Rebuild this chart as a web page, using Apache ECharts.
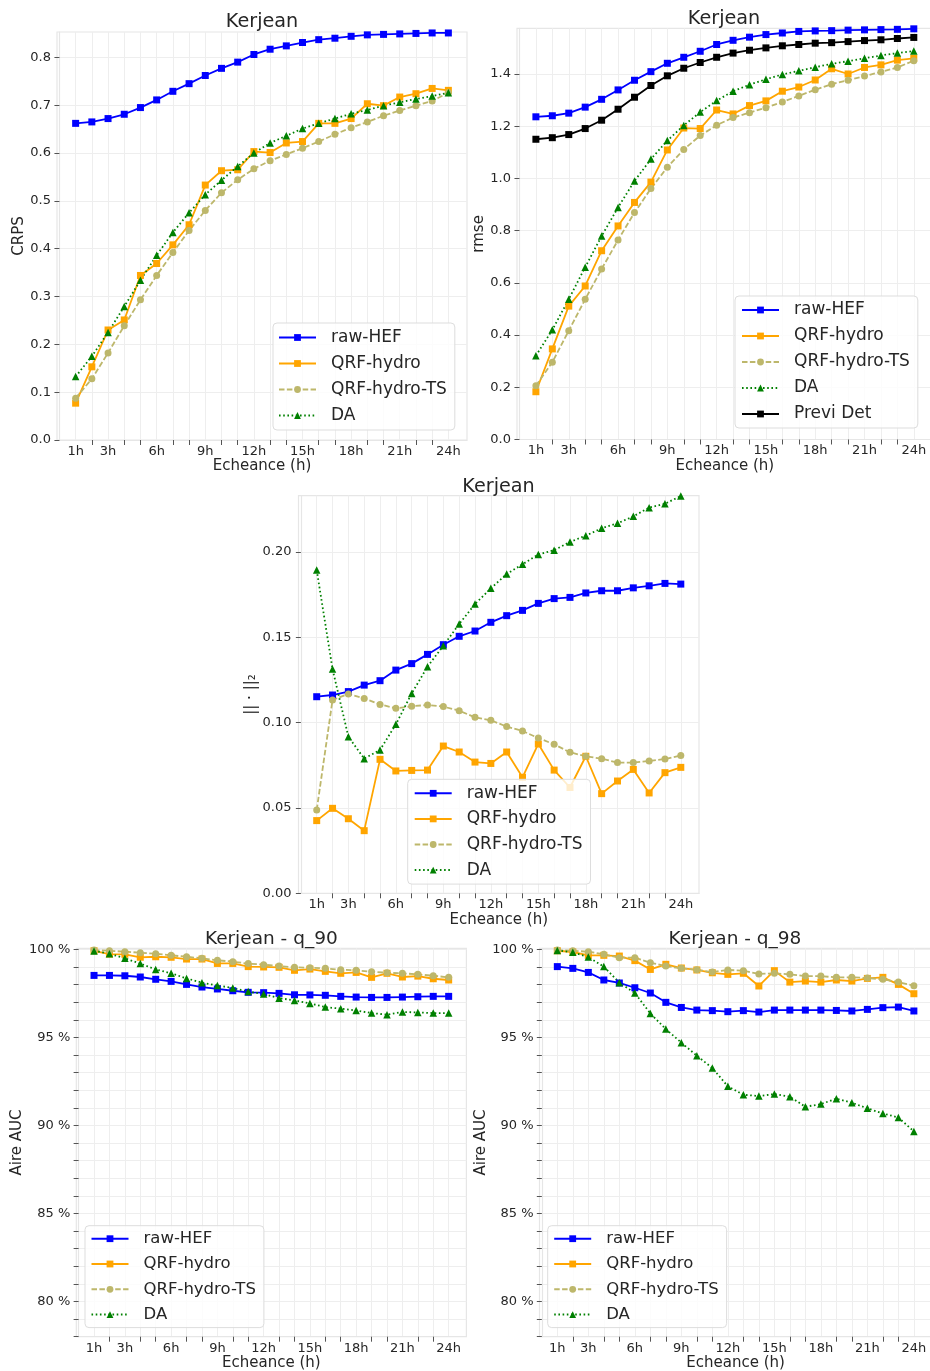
<!DOCTYPE html>
<html><head><meta charset="utf-8">
<script src="https://cdn.jsdelivr.net/npm/echarts@6/dist/echarts.min.js"></script>
<style>html,body{margin:0;padding:0;background:#fff}#c{width:930px;height:1371px}</style>
</head><body><div id="c"></div><script>
const hours = [1,2,3,4,5,6,7,8,9,10,11,12,13,14,15,16,17,18,19,20,21,22,23,24];
const xLabelHours = [1,3,6,9,12,15,18,21,24];
const xTickHours = [2,4,5,7,8,10,11,13,14,16,17,19,20,22,23];

// CRPS
const crpsRawHEF = [0.662,0.665,0.672,0.681,0.695,0.711,0.729,0.745,0.762,0.777,0.790,0.806,0.817,0.824,0.831,0.837,0.840,0.844,0.847,0.848,0.849,0.850,0.851,0.851];
const crpsQRF = [0.077,0.153,0.230,0.251,0.344,0.369,0.408,0.450,0.533,0.563,0.565,0.603,0.601,0.621,0.624,0.662,0.662,0.672,0.703,0.699,0.717,0.724,0.735,0.731];
const crpsQRFTS = [0.0875,0.128,0.182,0.239,0.293,0.344,0.392,0.438,0.480,0.517,0.544,0.567,0.584,0.597,0.610,0.624,0.639,0.653,0.665,0.678,0.689,0.699,0.709,0.726];
const crpsDA = [0.1325,0.175,0.225,0.279,0.334,0.386,0.434,0.475,0.513,0.543,0.572,0.600,0.621,0.636,0.651,0.662,0.672,0.682,0.690,0.699,0.706,0.713,0.719,0.726];

// RMSE
const rmseRawHEF = [1.236,1.240,1.250,1.273,1.303,1.339,1.376,1.409,1.441,1.464,1.487,1.513,1.529,1.541,1.551,1.557,1.563,1.565,1.566,1.568,1.569,1.570,1.571,1.573];
const rmseQRF = [0.183,0.347,0.511,0.588,0.723,0.818,0.908,0.986,1.109,1.193,1.191,1.262,1.247,1.279,1.297,1.334,1.350,1.377,1.420,1.400,1.425,1.435,1.453,1.460];
const rmseQRFTS = [0.206,0.296,0.417,0.537,0.653,0.764,0.869,0.961,1.043,1.111,1.164,1.204,1.233,1.252,1.271,1.293,1.316,1.340,1.361,1.376,1.392,1.408,1.425,1.451];
const rmseDA = [0.321,0.420,0.537,0.660,0.779,0.889,0.990,1.074,1.145,1.203,1.254,1.298,1.334,1.359,1.380,1.398,1.412,1.426,1.439,1.449,1.460,1.471,1.480,1.488];
const rmsePreviDet = [1.150,1.156,1.168,1.191,1.223,1.265,1.311,1.356,1.393,1.422,1.444,1.464,1.480,1.491,1.500,1.508,1.513,1.518,1.520,1.524,1.528,1.531,1.536,1.540];

// Norm L2
const normRawHEF = [0.1152,0.1162,0.1182,0.1220,0.1246,0.1308,0.1346,0.1400,0.1457,0.1506,0.1537,0.1588,0.1627,0.1658,0.1699,0.1727,0.1734,0.1760,0.1773,0.1773,0.1790,0.1802,0.1816,0.1812];
const normQRF = [0.0426,0.0498,0.0437,0.0367,0.0785,0.0717,0.0720,0.0722,0.0863,0.0828,0.0769,0.0761,0.0828,0.0680,0.0875,0.0722,0.0620,0.0803,0.0584,0.0658,0.0726,0.0588,0.0707,0.0738];
const normQRFTS = [0.0488,0.1133,0.1168,0.1142,0.1107,0.1084,0.1096,0.1104,0.1094,0.1070,0.1031,0.1014,0.0977,0.0951,0.0910,0.0873,0.0826,0.0803,0.0789,0.0766,0.0766,0.0775,0.0787,0.0808];
const normDA = [0.1894,0.1314,0.0918,0.0789,0.0840,0.0990,0.1171,0.1328,0.1451,0.1578,0.1695,0.1787,0.1871,0.1928,0.1986,0.2011,0.2059,0.2096,0.2139,0.2168,0.2209,0.2260,0.2283,0.2328];

// AUC q_90
const q90RawHEF = [98.52,98.52,98.50,98.43,98.30,98.18,98.01,97.86,97.75,97.65,97.56,97.54,97.50,97.42,97.41,97.39,97.33,97.29,97.27,97.27,97.29,97.31,97.33,97.33];
const q90QRF = [99.92,99.73,99.72,99.55,99.58,99.55,99.45,99.45,99.20,99.20,99.02,99.00,98.98,98.81,98.88,98.75,98.64,98.69,98.41,98.64,98.43,98.48,98.33,98.26];
const q90QRFTS = [99.96,99.92,99.87,99.81,99.75,99.66,99.58,99.49,99.38,99.30,99.19,99.13,99.05,98.98,98.96,98.92,98.84,98.81,98.73,98.67,98.64,98.58,98.50,98.41];
const q90DA = [99.91,99.75,99.49,99.19,98.86,98.64,98.35,98.11,97.95,97.80,97.60,97.46,97.23,97.10,96.93,96.72,96.63,96.53,96.38,96.29,96.44,96.42,96.38,96.38];

// AUC q_98
const q98RawHEF = [99.02,98.92,98.69,98.26,98.09,97.82,97.52,96.99,96.70,96.55,96.52,96.46,96.52,96.44,96.55,96.55,96.55,96.55,96.53,96.50,96.59,96.69,96.72,96.50];
const q98QRF = [99.92,99.85,99.66,99.66,99.62,99.36,98.86,99.15,98.94,98.83,98.67,98.58,98.64,97.92,98.79,98.14,98.20,98.14,98.26,98.20,98.35,98.41,98.01,97.48];
const q98QRFTS = [99.96,99.92,99.87,99.72,99.53,99.53,99.24,99.05,98.92,98.84,98.71,98.83,98.79,98.60,98.64,98.58,98.48,98.48,98.41,98.41,98.37,98.30,98.14,97.94];
const q98DA = [99.94,99.83,99.56,99.02,98.11,97.52,96.36,95.47,94.70,93.96,93.26,92.22,91.74,91.67,91.78,91.63,91.06,91.21,91.52,91.29,90.97,90.68,90.45,89.66];

// tick values
const crpsTicks = [0,0.1,0.2,0.3,0.4,0.5,0.6,0.7,0.8];
const rmseTicks = [0,0.2,0.4,0.6,0.8,1.0,1.2,1.4];
const normTicks = [0,0.05,0.10,0.15,0.20];
const aucTicks = [78,79,80,81,82,83,84,85,86,87,88,89,90,91,92,93,94,95,96,97,98,99,100];
const aucLabels = [80,85,90,95,100];

const FONT = "'DejaVu Sans', sans-serif";
const TXT = '#262626';
const STY = {
  'raw-HEF': {color:'#0000ff', symbol:'rect', type:'solid', size:7},
  'QRF-hydro': {color:'#ffa500', symbol:'rect', type:'solid', size:7},
  'QRF-hydro-TS': {color:'#bdb76b', symbol:'circle', type:[5.5,2.4], size:7},
  'DA': {color:'#008000', symbol:'triangle', type:[1.6,2.6], size:7.5},
  'Previ Det': {color:'#000000', symbol:'rect', type:'solid', size:7}
};

const grids = [
  {left:57, top:32, width:410, height:408},
  {left:517, top:28.3, width:415.7, height:411.2},
  {left:298.5, top:495.7, width:400.5, height:397.6},
  {left:76.3, top:948.3, width:390.1, height:388.4},
  {left:539.5, top:948.3, width:392.2, height:388.4}
].map(g => Object.assign(g, {show:true, borderColor:'#e6e6e6', borderWidth:1.2, outerBoundsMode:'none', containLabel:false}));

const yDefs = [
  {min:0, max:0.853, ticks:crpsTicks, labels:crpsTicks, fmt:v=>v.toFixed(1), name:'CRPS', gap:27, margin:6},
  {min:0, max:1.575, ticks:rmseTicks, labels:rmseTicks, fmt:v=>v.toFixed(1), name:'rmse', gap:27, margin:6},
  {min:0, max:0.233, ticks:normTicks, labels:normTicks, fmt:v=>v.toFixed(2), name:'|| · ||₂', gap:33, margin:7},
  {min:78, max:100.06, ticks:aucTicks, labels:aucLabels, fmt:v=>v+' %', name:'Aire AUC', gap:46, margin:6},
  {min:78, max:100.06, ticks:aucTicks, labels:aucLabels, fmt:v=>v+' %', name:'Aire AUC', gap:46, margin:6}
];

const xAxes = [], yAxes = [];
grids.forEach((g, i) => {
  xAxes.push({
    type:'value', gridIndex:i, min:-0.15, max:25.15, position:'bottom',
    name:'Echeance (h)', nameLocation:'middle', nameGap:17,
    nameTextStyle:{fontFamily:FONT, fontSize:15, color:TXT},
    axisLine:{show:true, lineStyle:{color:'#e6e6e6', width:1.2}},
    axisTick:{show:false, customValues:hours},
    axisLabel:{customValues:xLabelHours, formatter:v=>v+'h', margin:5, fontFamily:FONT, fontSize:13, color:TXT},
    splitLine:{show:true, lineStyle:{color:'#eeeeee', width:1}}
  });
  const y = yDefs[i];
  yAxes.push({
    type:'value', gridIndex:i, min:y.min, max:y.max,
    name:y.name, nameLocation:'middle', nameGap:y.gap,
    nameTextStyle:{fontFamily:FONT, fontSize:15, color:TXT},
    axisLine:{show:true, lineStyle:{color:'#e6e6e6', width:1.2}},
    axisTick:{show:true, customValues:y.ticks, length:5, lineStyle:{color:'#555555'}},
    axisLabel:{customValues:y.labels, formatter:y.fmt, margin:y.margin, fontFamily:FONT, fontSize:13, color:TXT},
    splitLine:{show:true, lineStyle:{color:'#eeeeee', width:1}}
  });
});
// overlay x axes for small tick marks at unlabelled hours
grids.forEach((g, i) => {
  xAxes.push({
    type:'value', gridIndex:i, min:-0.15, max:25.15, position:'bottom',
    axisLine:{show:false},
    axisTick:{show:true, customValues:xTickHours, length:5, lineStyle:{color:'#555555'}},
    axisLabel:{show:false}, splitLine:{show:false}
  });
});

const series = [];
function add(name, vals, gi, z) {
  const s = STY[name];
  series.push({
    type:'line', name, xAxisIndex:gi, yAxisIndex:gi,
    data: hours.map((h, k) => [h, vals[k]]),
    symbol:s.symbol, symbolSize:s.size, showSymbol:true,
    lineStyle:{color:s.color, width:1.8, type:s.type},
    itemStyle:{color:s.color},
    emphasis:{disabled:true}, z:z || 2
  });
}
add('raw-HEF', crpsRawHEF, 0); add('QRF-hydro', crpsQRF, 0); add('QRF-hydro-TS', crpsQRFTS, 0); add('DA', crpsDA, 0);
add('raw-HEF', rmseRawHEF, 1); add('QRF-hydro', rmseQRF, 1); add('QRF-hydro-TS', rmseQRFTS, 1); add('DA', rmseDA, 1); add('Previ Det', rmsePreviDet, 1);
add('raw-HEF', normRawHEF, 2); add('QRF-hydro', normQRF, 2); add('QRF-hydro-TS', normQRFTS, 2); add('DA', normDA, 2);
add('raw-HEF', q90RawHEF, 3); add('QRF-hydro', q90QRF, 3); add('QRF-hydro-TS', q90QRFTS, 3); add('DA', q90DA, 3);
add('raw-HEF', q98RawHEF, 4); add('QRF-hydro', q98QRF, 4); add('QRF-hydro-TS', q98QRFTS, 4); add('DA', q98DA, 4);

const four = ['raw-HEF','QRF-hydro','QRF-hydro-TS','DA'];
function legend(names, left, top, fs, gap, pad) {
  return {
    data:names, orient:'vertical', left, top, itemWidth:37, itemHeight:8.5, itemGap:gap,
    selectedMode:false, padding:pad,
    textStyle:{fontFamily:FONT, fontSize:fs, color:TXT, lineHeight:fs, padding:[0,0,0,10]},
    borderColor:'#dddddd', borderWidth:1, borderRadius:4, backgroundColor:'rgba(255,255,255,0.8)', z:10
  };
}

const titles = [
  {text:'Kerjean', x:262, y:21.8, fs:19.2},
  {text:'Kerjean', x:724, y:19.3, fs:19.2},
  {text:'Kerjean', x:498.5, y:486.8, fs:19.2},
  {text:'Kerjean - q_90', x:271.3, y:938.8, fs:18.5},
  {text:'Kerjean - q_98', x:735, y:938.8, fs:18.5}
];

const option = {
  animation:false,
  backgroundColor:'#ffffff',
  grid:grids, xAxis:xAxes, yAxis:yAxes, series,
  legend:[
    legend(four, 273, 323, 17, 9, [6,8,6,5]),
    legend(four.concat(['Previ Det']), 735, 296, 17, 9, [5.5,8,5.5,6]),
    legend(four, 407.7, 779.3, 17, 8.6, [5.5,8,5.5,6]),
    legend(four, 85, 1225.7, 16.5, 8.3, [4.5,8,4.5,5.5]),
    legend(four, 547.7, 1225.7, 16.5, 8.3, [4.5,8,4.5,5.5])
  ],
  graphic: titles.map(t => ({
    type:'text', x:t.x, y:t.y, z:20,
    style:{text:t.text, fill:TXT, font:`${t.fs}px ${FONT}`, align:'center', verticalAlign:'middle', textAlign:'center', textVerticalAlign:'middle'}
  }))
};
const chart = echarts.init(document.getElementById('c'), null, {renderer:'canvas'});
chart.setOption(option);
</script></body></html>
